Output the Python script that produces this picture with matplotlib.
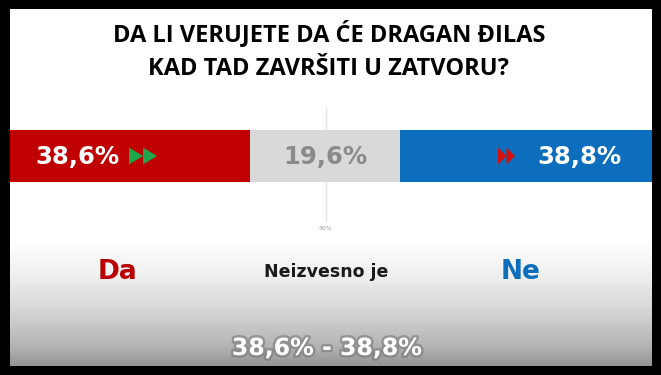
import numpy as np
import matplotlib.pyplot as plt
from matplotlib.patches import Rectangle, Polygon
import matplotlib.patheffects as pe

# poll data
answers = ["Da", "Neizvesno je", "Ne"]
values = [38.6, 19.6, 38.8]
colors = ["#c00000", "#d9d9d9", "#0d6ebd"]
label_colors = ["white", "#8a8a8a", "white"]
title_lines = ["DA LI VERUJETE DA ĆE DRAGAN ĐILAS", "KAD TAD ZAVRŠITI U ZATVORU?"]
answer_colors = ["#b80000", "#1a1a1a", "#0d6ebd"]


def fmt(v):
    return f"{v:.1f}%".replace(".", ",")


W, H = 661, 375
fig = plt.figure(figsize=(W / 100, H / 100), dpi=100)

# background layer in pixel coordinates
bg = fig.add_axes([0, 0, 1, 1])
bg.set_xlim(0, W)
bg.set_ylim(H, 0)
bg.axis("off")

# grey fade at the bottom
ys = np.linspace(0, 1, 200)
shade = np.interp(ys, [0, 0.3, 0.6, 0.85, 1], [1.0, 0.93, 0.82, 0.7, 0.58])
grad = np.repeat(shade[:, None], 2, axis=1)
bg.imshow(grad, cmap="gray", vmin=0, vmax=1, extent=[0, W, 366, 240],
          aspect="auto", zorder=0)

# bar axis: x in percent, y in pixels
ax = fig.add_axes([0, 0, 1, 1], zorder=2)
ax.patch.set_alpha(0)
lefts = np.concatenate([[0], np.cumsum(values)[:-1]])
ppu = 150 / values[1]          # pixels per percent point
x_of = lambda px: values[0] + (px - 250) / ppu
ax.set_xlim(x_of(0), x_of(W))
ax.set_ylim(H, 0)
ax.axis("off")

total = sum(values)
ax.plot([total / 2, total / 2], [108, 220], color="#e2e2e2", lw=1, zorder=1)
ax.text(total / 2, 229, "50%", fontsize=4.5, color="#999999",
        ha="center", va="center")
ax.barh(156, values, left=lefts, height=52, color=colors, zorder=2)

lab_font = dict(fontsize=17.5, fontweight="bold", family="DejaVu Sans", va="center")
ax.text(x_of(35), 157, fmt(values[0]), color=label_colors[0], ha="left", zorder=3, **lab_font)
ax.text(lefts[1] + values[1] / 2, 157, fmt(values[1]), color=label_colors[1],
        ha="center", zorder=3, **lab_font)
ax.text(x_of(621), 157, fmt(values[2]), color=label_colors[2], ha="right", zorder=3, **lab_font)

# double arrows
def arrows(x0, w, h, color):
    for i in range(2):
        xs = x0 + i * w
        ax.add_patch(Polygon([(x_of(xs), 156 - h / 2), (x_of(xs + w), 156),
                              (x_of(xs), 156 + h / 2)], closed=True,
                             color=color, zorder=3, lw=0))

arrows(129, 14, 17, "#1fa64a")
arrows(498, 8.5, 17, "#d40f0f")

# title
for i, line in enumerate(title_lines):
    bg.text(329, 41 + i * 34, line, fontsize=17, fontweight="bold",
            family="Open Sans", ha="center", va="baseline", color="black", zorder=5)

# answer names
ans_font = dict(fontweight="bold", family="DejaVu Sans", ha="center", va="baseline", zorder=5)
bg.text(117, 279, answers[0], fontsize=19, color=answer_colors[0], **ans_font)
bg.text(326, 277, answers[1], fontsize=12.5, color=answer_colors[1], **ans_font)
bg.text(521, 279, answers[2], fontsize=19, color=answer_colors[2], **ans_font)

# range under the chart
bg.text(327, 355, f"{fmt(values[0])} - {fmt(values[2])}", fontsize=17,
        fontweight="bold", family="DejaVu Sans", color="white", ha="center",
        va="baseline", zorder=5,
        path_effects=[pe.withStroke(linewidth=3.5, foreground="#6e6e6e", alpha=0.5)])

# black frame
for r in [(0, 0, W, 9), (0, 366, W, 9), (0, 0, 10, H), (652, 0, 9, H)]:
    fr = Rectangle((r[0], r[1]), r[2], r[3], color="black", lw=0, zorder=10)
    fig.add_artist(fr)
    fr.set_transform(bg.transData)

fig.savefig("out.png", dpi=100)
